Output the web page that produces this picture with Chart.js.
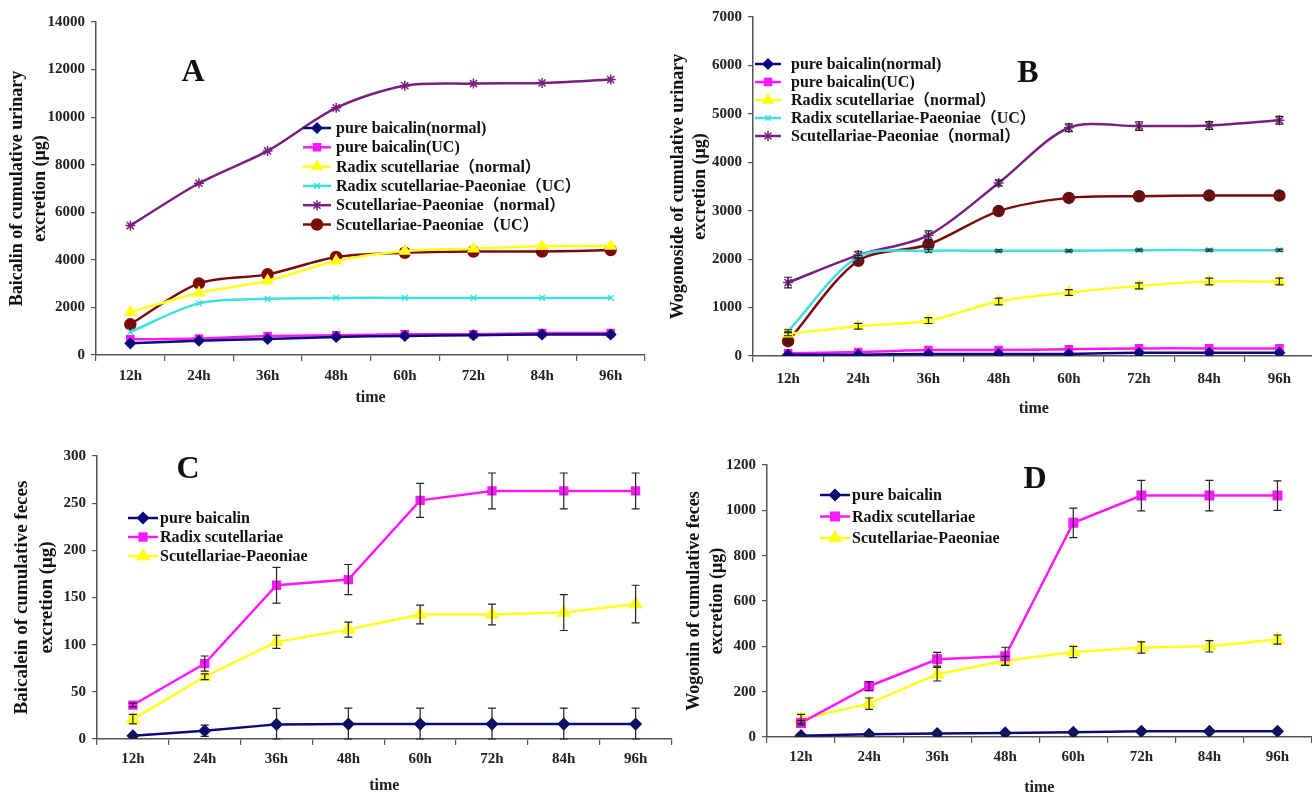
<!DOCTYPE html>
<html>
<head>
<meta charset="utf-8">
<script src="https://cdn.jsdelivr.net/npm/chart.js@4.4.1/dist/chart.umd.min.js"></script>
<style>
  html, body { margin: 0; padding: 0; background: #fff; width: 1312px; height: 793px; overflow: hidden; }
  canvas { position: absolute; }
</style>
</head>
<body>
<canvas id="chartA" width="660" height="420" style="left:0;top:0"></canvas>
<canvas id="chartB" width="662" height="420" style="left:660px;top:0"></canvas>
<canvas id="chartC" width="680" height="370" style="left:0;top:430px"></canvas>
<canvas id="chartD" width="640" height="370" style="left:680px;top:430px"></canvas>
<script>
// time points
const hours = ['12h', '24h', '36h', '48h', '60h', '72h', '84h', '96h'];

// A: baicalin, cumulative urinary excretion (μg)
const aPureNormal = [490, 600, 670, 760, 800, 830, 860, 860];
const aPureUC = [660, 690, 800, 830, 870, 870, 920, 920];
const aRadixNormal = [1800, 2610, 3120, 3950, 4370, 4470, 4570, 4580];
const aRadixPaeoUC = [970, 2170, 2360, 2400, 2400, 2400, 2400, 2400];
const aScutPaeoNormal = [5440, 7220, 8580, 10390, 11320, 11410, 11440, 11580];
const aScutPaeoUC = [1290, 3010, 3390, 4120, 4300, 4350, 4350, 4410];

// B: wogonoside, cumulative urinary excretion (μg)
const bPureNormal = [27, 27, 41, 41, 41, 68, 68, 68];
const bPureUC = [55, 82, 123, 123, 137, 157, 157, 157];
const bRadixNormal = [458, 615, 731, 1127, 1311, 1448, 1537, 1537];
const bRadixNormalErr = [40, 60, 60, 70, 60, 60, 70, 70];
const bRadixPaeoUC = [512, 2049, 2172, 2172, 2172, 2186, 2186, 2186];
const bRadixPaeoUCErr = [30, 30, 30, 20, 20, 20, 20, 20];
const bScutPaeoNormal = [1516, 2083, 2493, 3572, 4713, 4747, 4761, 4870];
const bScutPaeoNormalErr = [110, 80, 90, 60, 80, 90, 80, 80];
const bScutPaeoUC = [307, 1967, 2302, 2992, 3265, 3299, 3313, 3313];
const bScutPaeoUCErr = [40, 60, 60, 70, 80, 90, 80, 80];

// C: baicalein, cumulative feces excretion (μg)
const cPure = [3.5, 8.8, 15.5, 15.8, 15.8, 15.8, 15.8, 15.8];
const cPureErr = [2, 6, 17, 17, 17, 17, 17, 17];
const cRadix = [36, 80, 163, 169, 253, 263, 263, 263];
const cRadixErr = [2, 8, 19, 16, 18, 19, 19, 19];
const cScutPaeo = [21, 66, 103, 116, 132, 132, 134, 143];
const cScutPaeoErr = [5, 3, 7, 8, 10, 11, 19, 20];

// D: wogonin, cumulative feces excretion (μg)
const dPure = [6, 12, 15, 18, 21, 25, 25, 25];
const dPureErr = [3, 4, 4, 4, 4, 5, 5, 5];
const dRadix = [62, 224, 343, 356, 945, 1065, 1065, 1065];
const dRadixErr = [10, 20, 30, 40, 65, 67, 67, 65];
const dScutPaeo = [80, 147, 277, 336, 375, 395, 400, 430];
const dScutPaeoErr = [20, 25, 30, 20, 25, 25, 25, 20];

const SERIF = '"Liberation Serif", "Noto Sans CJK SC", serif';
const NAVY = '#0a0a78', MAGENTA = '#ff18ff', YELLOW = '#ffff1a', CYAN = '#40dede', PURPLE = '#7a1f80', MAROON = '#7d0a0a';

function series(label, data, color, pointStyle, radius, extra) {
  return Object.assign({
    label, data, borderColor: color, backgroundColor: color,
    pointStyle, pointRadius: radius, pointBorderWidth: 1.5,
    borderWidth: 2.5, fill: false
  }, extra || {});
}

// line + marker legend drawn like the original spreadsheet legend
const lineLegend = {
  id: 'lineLegend',
  afterDraw(chart, args, opts) {
    const ctx = chart.ctx;
    const sets = chart.data.datasets.slice(0, opts.count || chart.data.datasets.length);
    ctx.save();
    ctx.font = opts.font;
    ctx.textBaseline = 'middle';
    sets.forEach((ds, i) => {
      const y = opts.y + i * opts.spacing;
      ctx.strokeStyle = ds.borderColor;
      ctx.lineWidth = 2.5;
      ctx.beginPath();
      ctx.moveTo(opts.x, y);
      ctx.lineTo(opts.x + opts.sample, y);
      ctx.stroke();
      ctx.fillStyle = ds.backgroundColor;
      ctx.lineWidth = 1.5;
      Chart.helpers.drawPoint(ctx, { pointStyle: ds.pointStyle, radius: ds.pointRadius, borderWidth: 1.5, rotation: 0 },
        opts.x + opts.sample / 2, y);
      ctx.fillStyle = '#111';
      ctx.fillText(ds.label, opts.x + opts.sample + opts.gap, y + 1);
    });
    ctx.restore();
  }
};

const errorBars = {
  id: 'errorBars',
  afterDatasetsDraw(chart) {
    const ctx = chart.ctx, yScale = chart.scales.y;
    ctx.save();
    ctx.strokeStyle = '#222';
    ctx.lineWidth = 1.2;
    chart.data.datasets.forEach((ds, i) => {
      if (!ds.errors) return;
      chart.getDatasetMeta(i).data.forEach((pt, j) => {
        const v = ds.data[j], e = ds.errors[j];
        const top = yScale.getPixelForValue(v + e), bot = yScale.getPixelForValue(Math.max(0, v - e));
        ctx.beginPath();
        ctx.moveTo(pt.x, top); ctx.lineTo(pt.x, bot);
        ctx.moveTo(pt.x - 4, top); ctx.lineTo(pt.x + 4, top);
        ctx.moveTo(pt.x - 4, bot); ctx.lineTo(pt.x + 4, bot);
        ctx.stroke();
      });
    });
    ctx.restore();
  }
};

const panelLetter = {
  id: 'panelLetter',
  afterDraw(chart, args, opts) {
    const ctx = chart.ctx;
    ctx.save();
    ctx.font = 'bold 32px ' + SERIF;
    ctx.fillStyle = '#111';
    ctx.textAlign = 'center';
    ctx.textBaseline = 'middle';
    ctx.fillText(opts.text, opts.x, opts.y);
    ctx.restore();
  }
};

function makeChart(id, cfg) {
  new Chart(document.getElementById(id), {
    type: 'line',
    data: { labels: hours, datasets: cfg.datasets },
    plugins: [errorBars, lineLegend, panelLetter],
    options: {
      responsive: false,
      animation: false,
      layout: { padding: { top: cfg.padTop, right: cfg.padRight, left: 0, bottom: 0 } },
      plugins: {
        legend: { display: false },
        tooltip: { enabled: false },
        lineLegend: cfg.legend,
        panelLetter: cfg.letter
      },
      scales: {
        x: {
          type: 'category',
          offset: true,
          afterFit(s) { s.height = cfg.xHeight; },
          grid: { offset: true, drawOnChartArea: false, tickLength: 6, color: '#555', lineWidth: 1.2 },
          border: { color: '#555', width: 1.5 },
          ticks: { color: '#222', padding: cfg.xTickPad, font: { family: SERIF, size: 15, weight: 'bold' } },
          title: {
            display: true, text: 'time', color: '#222',
            font: { family: SERIF, size: 16, weight: 'bold', lineHeight: 1.2 },
            padding: { top: 0, bottom: cfg.timePad }
          }
        },
        y: {
          min: 0, max: cfg.yMax,
          afterFit(s) { s.width = cfg.yWidth; },
          grid: { drawOnChartArea: false, tickLength: 5, color: '#555', lineWidth: 1.2 },
          border: { color: '#555', width: 1.5 },
          ticks: {
            stepSize: cfg.yStep, color: '#222', padding: 6,
            font: { family: SERIF, size: 15, weight: 'bold' },
            callback: v => String(v)
          },
          title: {
            display: true, text: cfg.yTitle, color: '#111',
            font: { family: SERIF, size: cfg.yTitleSize, weight: 'bold', lineHeight: cfg.yTitleLH },
            padding: { top: cfg.yTitlePad, bottom: 0 }
          }
        }
      }
    }
  });
}

// A
makeChart('chartA', {
  datasets: [
    series('pure baicalin(normal)', aPureNormal, NAVY, 'rectRot', 5, { tension: 0.3 }),
    series('pure baicalin(UC)', aPureUC, MAGENTA, 'rect', 5, { tension: 0.3 }),
    series('Radix scutellariae（normal）', aRadixNormal, YELLOW, 'triangle', 6, { tension: 0.3 }),
    series('Radix scutellariae-Paeoniae（UC）', aRadixPaeoUC, CYAN, 'crossRot', 4, { tension: 0.3 }),
    series('Scutellariae-Paeoniae（normal）', aScutPaeoNormal, PURPLE, 'star', 5, { tension: 0.3 }),
    series('Scutellariae-Paeoniae（UC）', aScutPaeoUC, MAROON, 'circle', 5.5, { tension: 0.3 })
  ],
  padTop: 22, padRight: 15, yWidth: 96, xHeight: 65, xTickPad: 6, timePad: 13,
  yMax: 14000, yStep: 2000,
  yTitle: ['Baicalin of cumulative urinary', 'excretion (μg)'], yTitleSize: 18, yTitleLH: 1.3, yTitlePad: 5.5,
  legend: { x: 303, y: 128, spacing: 19.3, sample: 28, gap: 5, font: 'bold 16px ' + SERIF },
  letter: { text: 'A', x: 193, y: 73 }
});

// B
makeChart('chartB', {
  datasets: [
    series('pure baicalin(normal)', bPureNormal, NAVY, 'rectRot', 5, { tension: 0.3 }),
    series('pure baicalin(UC)', bPureUC, MAGENTA, 'rect', 5, { tension: 0.3 }),
    series('Radix scutellariae（normal）', bRadixNormal, YELLOW, 'triangle', 6, { tension: 0.3, errors: bRadixNormalErr }),
    series('Radix scutellariae-Paeoniae（UC）', bRadixPaeoUC, CYAN, 'crossRot', 4, { tension: 0.3, errors: bRadixPaeoUCErr }),
    series('Scutellariae-Paeoniae（normal）', bScutPaeoNormal, PURPLE, 'star', 5, { tension: 0.3, errors: bScutPaeoNormalErr }),
    series('Scutellariae-Paeoniae（UC）', bScutPaeoUC, MAROON, 'circle', 5.5, { tension: 0.3, errors: bScutPaeoUCErr })
  ],
  padTop: 17, padRight: 2, yWidth: 93, xHeight: 64, xTickPad: 8, timePad: 2,
  yMax: 7000, yStep: 1000,
  yTitle: ['Wogonoside of cumulative urinary', 'excretion (μg)'], yTitleSize: 18, yTitleLH: 1.25, yTitlePad: 7,
  legend: { x: 95, y: 64, spacing: 18, sample: 26, gap: 10, font: 'bold 16px ' + SERIF, count: 5 },
  letter: { text: 'B', x: 368, y: 74 }
});

// C
makeChart('chartC', {
  datasets: [
    series('pure baicalin', cPure, NAVY, 'rectRot', 5.5, { errors: cPureErr }),
    series('Radix scutellariae', cRadix, MAGENTA, 'rect', 5.5, { errors: cRadixErr }),
    series('Scutellariae-Paeoniae', cScutPaeo, YELLOW, 'triangle', 7, { errors: cScutPaeoErr })
  ],
  padTop: 26, padRight: 7, yWidth: 97, xHeight: 61, xTickPad: 5, timePad: 5,
  yMax: 300, yStep: 50,
  yTitle: ['Baicalein of cumulative feces', 'excretion (μg)'], yTitleSize: 19, yTitleLH: 1.32, yTitlePad: 9.5,
  legend: { x: 128, y: 88, spacing: 19, sample: 30, gap: 2, font: 'bold 16px ' + SERIF },
  letter: { text: 'C', x: 188, y: 40 }
});

// D
makeChart('chartD', {
  datasets: [
    series('pure baicalin', dPure, NAVY, 'rectRot', 5.5, { errors: dPureErr }),
    series('Radix scutellariae', dRadix, MAGENTA, 'rect', 6, { errors: dRadixErr }),
    series('Scutellariae-Paeoniae', dScutPaeo, YELLOW, 'triangle', 7, { errors: dScutPaeoErr })
  ],
  padTop: 35, padRight: 2, yWidth: 87, xHeight: 63, xTickPad: 5, timePad: 3,
  yMax: 1200, yStep: 200,
  yTitle: ['Wogonin of cumulative feces', 'excretion (μg)'], yTitleSize: 18, yTitleLH: 1.28, yTitlePad: 3,
  legend: { x: 140, y: 65, spacing: 21.5, sample: 30, gap: 2, font: 'bold 16px ' + SERIF },
  letter: { text: 'D', x: 355, y: 50 }
});
</script>
</body>
</html>
